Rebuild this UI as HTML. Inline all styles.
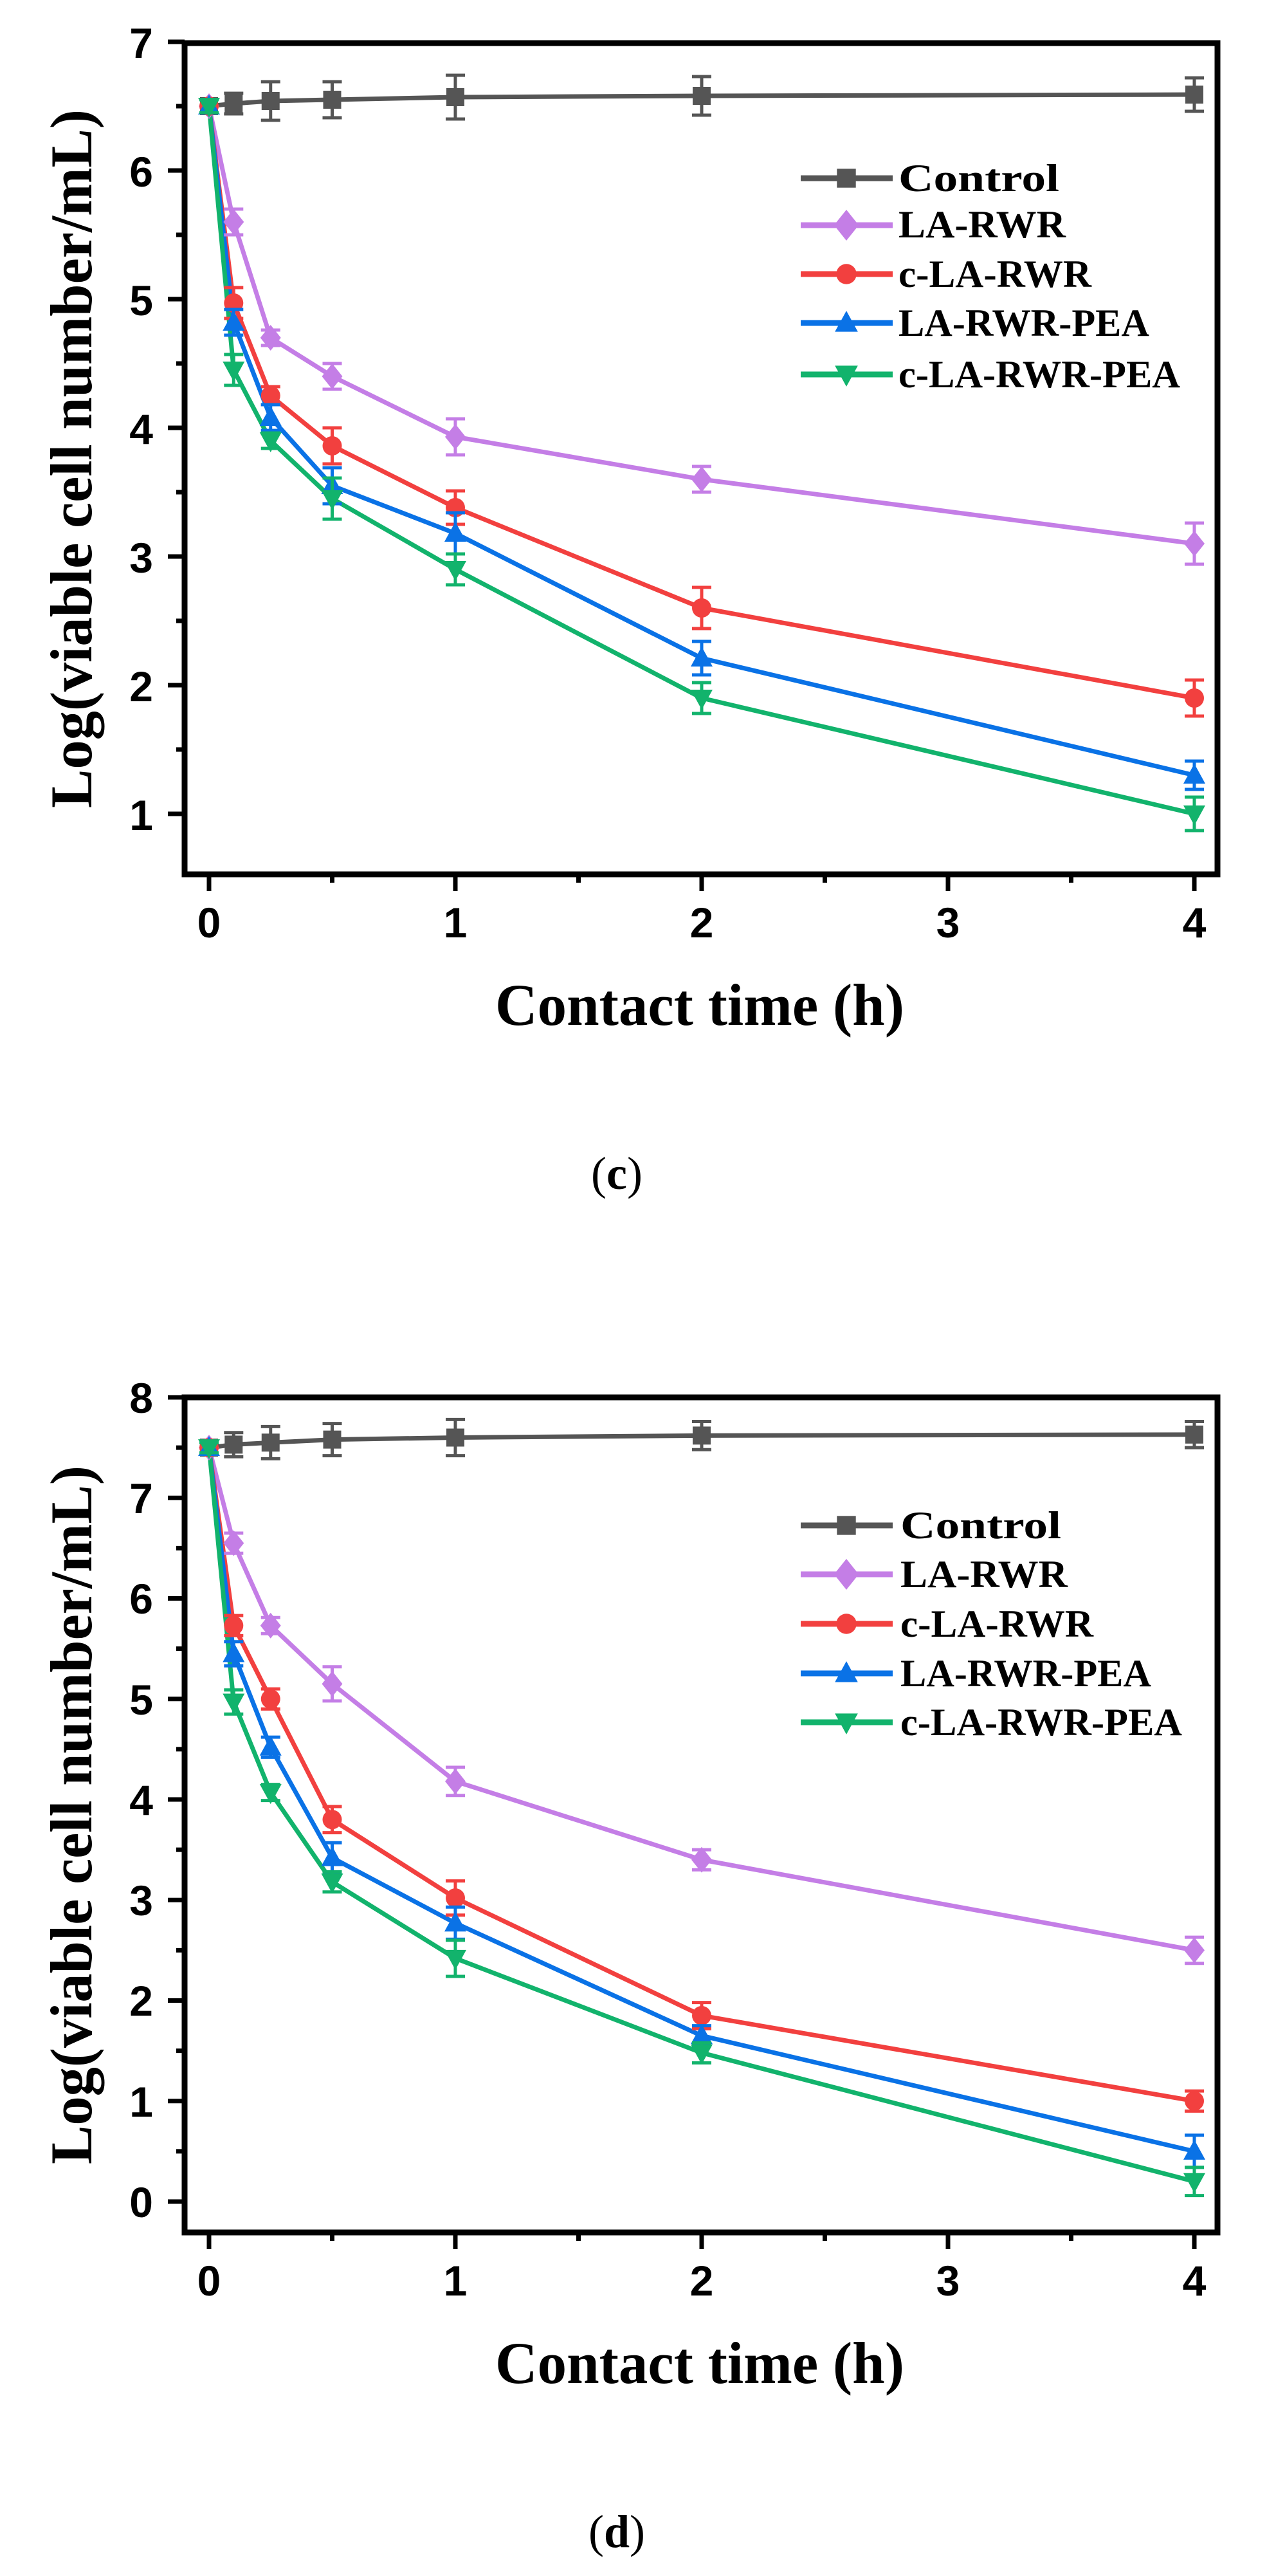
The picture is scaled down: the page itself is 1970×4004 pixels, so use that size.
<!DOCTYPE html>
<html><head><meta charset="utf-8"><style>
html,body{margin:0;padding:0;background:#fff;}
svg{display:block;}
.tk{font-family:"Liberation Sans",Arial,sans-serif;font-weight:bold;font-size:66px;fill:#000;}
.tt{font-family:"Liberation Serif","Times New Roman",serif;font-weight:bold;fill:#000;}
</style></head><body>
<svg id="s" width="1970" height="4004" viewBox="0 0 1970 4004" xmlns="http://www.w3.org/2000/svg">
<g id="g"></g>
<!-- panel c text -->
<text class="tk" x="238" y="90" text-anchor="end">7</text>
<text class="tk" x="238" y="290" text-anchor="end">6</text>
<text class="tk" x="238" y="490" text-anchor="end">5</text>
<text class="tk" x="238" y="690" text-anchor="end">4</text>
<text class="tk" x="238" y="890" text-anchor="end">3</text>
<text class="tk" x="238" y="1090" text-anchor="end">2</text>
<text class="tk" x="238" y="1290" text-anchor="end">1</text>
<text class="tk" x="325" y="1457" text-anchor="middle">0</text>
<text class="tk" x="708" y="1457" text-anchor="middle">1</text>
<text class="tk" x="1091" y="1457" text-anchor="middle">2</text>
<text class="tk" x="1474" y="1457" text-anchor="middle">3</text>
<text class="tk" x="1857" y="1457" text-anchor="middle">4</text>
<text class="tt" font-size="92" x="1088" y="1593" text-anchor="middle" textLength="636" lengthAdjust="spacingAndGlyphs">Contact time (h)</text>
<text class="tt" font-size="92" transform="translate(142,713) rotate(-90)" text-anchor="middle" textLength="1086" lengthAdjust="spacingAndGlyphs">Log(viable cell number/mL)</text>
<text x="959" y="1848" text-anchor="middle" font-family="Liberation Serif,serif" font-size="72">(<tspan font-weight="bold">c</tspan>)</text>
<g class="tt" font-size="60">
<text x="1397" y="297" textLength="250" lengthAdjust="spacingAndGlyphs">Control</text>
<text x="1397" y="369" textLength="260" lengthAdjust="spacingAndGlyphs">LA-RWR</text>
<text x="1397" y="446" textLength="300" lengthAdjust="spacingAndGlyphs">c-LA-RWR</text>
<text x="1397" y="522" textLength="390" lengthAdjust="spacingAndGlyphs">LA-RWR-PEA</text>
<text x="1397" y="602" textLength="438" lengthAdjust="spacingAndGlyphs">c-LA-RWR-PEA</text>
</g>
<!-- panel d text -->
<text class="tk" x="238" y="2196" text-anchor="end">8</text>
<text class="tk" x="238" y="2352" text-anchor="end">7</text>
<text class="tk" x="238" y="2508" text-anchor="end">6</text>
<text class="tk" x="238" y="2665" text-anchor="end">5</text>
<text class="tk" x="238" y="2821" text-anchor="end">4</text>
<text class="tk" x="238" y="2977" text-anchor="end">3</text>
<text class="tk" x="238" y="3133" text-anchor="end">2</text>
<text class="tk" x="238" y="3290" text-anchor="end">1</text>
<text class="tk" x="238" y="3446" text-anchor="end">0</text>
<text class="tk" x="325" y="3568" text-anchor="middle">0</text>
<text class="tk" x="708" y="3568" text-anchor="middle">1</text>
<text class="tk" x="1091" y="3568" text-anchor="middle">2</text>
<text class="tk" x="1474" y="3568" text-anchor="middle">3</text>
<text class="tk" x="1857" y="3568" text-anchor="middle">4</text>
<text class="tt" font-size="92" x="1088" y="3704" text-anchor="middle" textLength="636" lengthAdjust="spacingAndGlyphs">Contact time (h)</text>
<text class="tt" font-size="92" transform="translate(142,2821) rotate(-90)" text-anchor="middle" textLength="1086" lengthAdjust="spacingAndGlyphs">Log(viable cell number/mL)</text>
<text x="959" y="3959" text-anchor="middle" font-family="Liberation Serif,serif" font-size="72">(<tspan font-weight="bold">d</tspan>)</text>
<g class="tt" font-size="60">
<text x="1400" y="2391" textLength="250" lengthAdjust="spacingAndGlyphs">Control</text>
<text x="1400" y="2467" textLength="260" lengthAdjust="spacingAndGlyphs">LA-RWR</text>
<text x="1400" y="2544" textLength="300" lengthAdjust="spacingAndGlyphs">c-LA-RWR</text>
<text x="1400" y="2621" textLength="390" lengthAdjust="spacingAndGlyphs">LA-RWR-PEA</text>
<text x="1400" y="2697" textLength="438" lengthAdjust="spacingAndGlyphs">c-LA-RWR-PEA</text>
</g>
</svg>
<script>
(function(){
var g=document.getElementById('g'),NS='http://www.w3.org/2000/svg';
function el(t,a){var e=document.createElementNS(NS,t);for(var k in a)e.setAttribute(k,a[k]);g.appendChild(e);return e;}
var cols=['#555555','#c47ee6','#f2403f','#0a72e6','#12b36c'];
var shp=['sq','di','ci','tu','td'];
function marker(s,x,y,c,k){
 k=k||1;
 if(s=='sq')el('rect',{x:x-14*k,y:y-14*k,width:28*k,height:28*k,fill:c});
 else if(s=='di')el('polygon',{points:[x,y-20*k,x+16*k,y,x,y+20*k,x-16*k,y].join(' '),fill:c});
 else if(s=='ci')el('circle',{cx:x,cy:y,r:15*k,fill:c});
 else if(s=='tu')el('polygon',{points:[x,y-18*k,x+17*k,y+13*k,x-17*k,y+13*k].join(' '),fill:c});
 else el('polygon',{points:[x,y+18*k,x+17*k,y-13*k,x-17*k,y-13*k].join(' '),fill:c});
}
var X=[0,0.1,0.25,0.5,1,2,4];
function panel(P){
 var L=287,R=1893,T=P.T,B=P.B;
 function px(v){return 325+v*383;}
 function py(v){return P.y0+(P.ymax-v)*P.u;}
 // series
 for(var s=0;s<5;s++){
  var d=P.d[s],pts=[];
  for(var i=0;i<7;i++)pts.push(px(X[i])+','+py(d[i]));
  el('polyline',{points:pts.join(' '),fill:'none',stroke:cols[s],'stroke-width':7,'stroke-linejoin':'round'});
 }
 for(var s=0;s<5;s++){
  var d=P.d[s],e=P.e[s];
  for(var i=0;i<7;i++){
   var x=px(X[i]),y=py(d[i]),h=e[i]*P.u;
   if(h>2){
    el('line',{x1:x,y1:y-h,x2:x,y2:y+h,stroke:cols[s],'stroke-width':5});
    el('line',{x1:x-15,y1:y-h,x2:x+15,y2:y-h,stroke:cols[s],'stroke-width':5});
    el('line',{x1:x-15,y1:y+h,x2:x+15,y2:y+h,stroke:cols[s],'stroke-width':5});
   }
   marker(shp[s],x,y,cols[s]);
  }
 }
 // frame
 el('rect',{x:L,y:T,width:R-L,height:B-T,fill:'none',stroke:'#000','stroke-width':9});
 // y ticks
 for(var v=P.tmin;v<=P.ymax+0.001;v+=0.5){
  var y=py(v),maj=Math.abs(v-Math.round(v))<0.01;
  el('line',{x1:L-(maj?26:13),y1:y,x2:L,y2:y,stroke:'#000','stroke-width':7});
 }
 for(var v=0;v<=4;v+=0.5){
  var x=px(v),maj=Math.abs(v-Math.round(v))<0.01;
  el('line',{x1:x,y1:B,x2:x,y2:B+(maj?26:13),stroke:'#000','stroke-width':7});
 }
 // legend
 for(var s=0;s<5;s++){
  var y=P.ly[s];
  el('line',{x1:1245,y1:y,x2:1388,y2:y,stroke:cols[s],'stroke-width':9});
  marker(shp[s],1316,y,cols[s],s==1?1.2:1.05);
 }
}
panel({T:67,B:1359,y0:65,ymax:7,u:200,tmin:1,
 ly:[277,350,426,502,582],
 d:[[6.5,6.52,6.54,6.55,6.57,6.58,6.59],[6.5,5.6,4.7,4.4,3.93,3.6,3.1],[6.5,4.97,4.25,3.86,3.38,2.6,1.9],[6.5,4.82,4.08,3.55,3.18,2.21,1.3],[6.5,4.45,3.9,3.45,2.9,1.9,1.0]],
 e:[[0.05,0.08,0.15,0.14,0.17,0.15,0.13],[0.05,0.1,0.06,0.1,0.14,0.1,0.16],[0.05,0.12,0.07,0.14,0.13,0.16,0.14],[0.05,0.1,0.1,0.14,0.16,0.13,0.11],[0.05,0.12,0.06,0.16,0.12,0.12,0.13]]});
panel({T:2172,B:3470,y0:2172,ymax:8,u:156.25,tmin:0,
 ly:[2371,2447,2524,2601,2677],
 d:[[7.5,7.53,7.55,7.58,7.6,7.62,7.63],[7.5,6.55,5.73,5.15,4.18,3.4,2.5],[7.5,5.73,5.0,3.8,3.02,1.85,1.0],[7.5,5.45,4.52,3.42,2.77,1.65,0.5],[7.5,4.97,4.07,3.18,2.42,1.48,0.2]],
 e:[[0.05,0.12,0.16,0.16,0.18,0.14,0.13],[0.05,0.1,0.08,0.17,0.14,0.1,0.13],[0.05,0.1,0.1,0.13,0.17,0.13,0.1],[0.05,0.12,0.1,0.15,0.16,0.1,0.16],[0.05,0.12,0.08,0.1,0.18,0.1,0.14]]});
})();
</script>
</body></html>
